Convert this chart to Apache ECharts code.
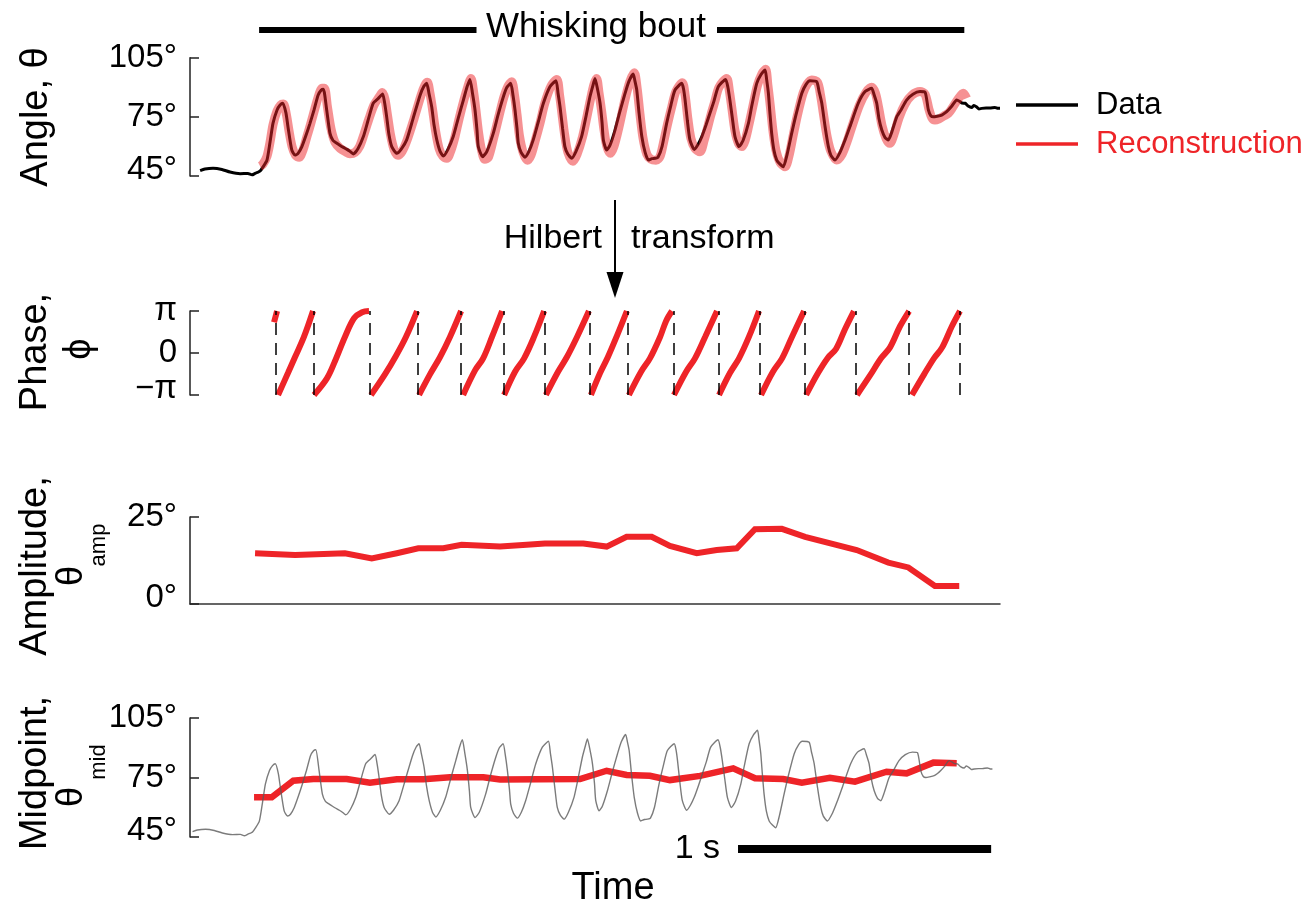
<!DOCTYPE html>
<html>
<head>
<meta charset="utf-8">
<script src="https://cdn.jsdelivr.net/npm/echarts@6/dist/echarts.min.js"></script>
<style>html,body{margin:0;padding:0;background:#fff}#main{width:1314px;height:907px}</style>
</head>
<body>
<div id="main"></div>
<script>
// ---------- DATA (time in seconds, angles in degrees, phase in radians) ----------
const angleTickLabels = ['45°', '75°', '105°'];
const ampTickLabels = ['0°', '25°'];
const phaseTickLabels = ['−π', '0', 'π'];

const angleData = [
[0.040,47.7],[0.059,48.5],[0.091,48.9],[0.126,48.3],[0.158,47.0],[0.198,46.2],[0.229,46.3],[0.245,45.6],[0.257,46.3],[0.269,47.0],
[0.277,47.5],[0.288,49.5],[0.304,53.0],[0.316,62.0],[0.328,71.8],[0.344,78.5],[0.356,81.0],[0.367,81.9],[0.379,77.0],[0.387,70.0],
[0.402,58.2],[0.415,55.6],[0.427,56.5],[0.442,59.9],[0.458,65.5],[0.474,71.7],[0.490,78.5],[0.506,86.0],[0.518,88.5],[0.527,89.0],
[0.540,78.5],[0.553,66.6],[0.565,63.0],[0.580,61.6],[0.593,60.5],[0.606,59.5],[0.620,58.5],[0.632,57.5],[0.645,56.2],[0.664,59.0],
[0.685,65.0],[0.703,73.0],[0.724,81.9],[0.744,84.4],[0.761,86.6],[0.769,82.0],[0.777,75.0],[0.786,66.0],[0.797,59.9],[0.817,56.5],
[0.834,58.5],[0.856,63.3],[0.881,74.0],[0.909,86.0],[0.924,90.5],[0.935,92.0],[0.944,87.0],[0.955,80.0],[0.964,71.0],[0.975,63.3],
[0.988,57.5],[1.001,55.1],[1.019,58.5],[1.040,65.0],[1.059,74.0],[1.080,83.5],[1.094,90.0],[1.106,94.0],[1.116,87.0],[1.126,78.5],
[1.134,68.0],[1.139,59.9],[1.156,54.8],[1.173,57.5],[1.198,66.6],[1.217,76.0],[1.238,85.2],[1.252,90.0],[1.267,92.0],[1.276,86.0],
[1.284,78.5],[1.292,69.0],[1.297,61.6],[1.308,57.0],[1.323,54.5],[1.339,57.5],[1.356,63.3],[1.375,72.0],[1.396,81.9],[1.422,90.3],
[1.446,93.3],[1.454,87.0],[1.462,80.0],[1.472,69.0],[1.481,59.9],[1.493,56.0],[1.508,54.0],[1.525,57.5],[1.547,65.0],[1.564,75.0],
[1.580,85.2],[1.592,91.0],[1.600,94.5],[1.610,89.0],[1.620,81.9],[1.628,72.0],[1.633,63.3],[1.646,58.2],[1.659,60.5],[1.679,68.3],
[1.699,78.0],[1.719,87.0],[1.734,93.0],[1.751,96.7],[1.758,93.0],[1.765,88.6],[1.774,77.0],[1.785,65.0],[1.798,57.0],[1.811,53.1],
[1.825,53.8],[1.837,54.0],[1.849,54.5],[1.865,60.0],[1.883,71.7],[1.900,81.0],[1.916,88.6],[1.943,92.0],[1.950,89.0],[1.956,83.5],
[1.965,73.0],[1.975,63.3],[1.992,58.5],[2.007,61.0],[2.022,65.0],[2.039,71.0],[2.054,76.8],[2.070,83.0],[2.087,90.3],[2.116,94.0],
[2.125,90.0],[2.133,83.5],[2.143,74.0],[2.153,65.0],[2.169,59.9],[2.185,63.0],[2.206,71.7],[2.220,81.0],[2.239,92.0],[2.256,96.5],
[2.272,98.8],[2.278,94.0],[2.285,87.0],[2.291,77.0],[2.298,66.6],[2.307,58.0],[2.318,53.1],[2.331,51.0],[2.344,49.7],[2.359,56.0],
[2.377,66.6],[2.394,76.0],[2.417,87.0],[2.434,91.5],[2.449,93.3],[2.476,92.8],[2.485,88.0],[2.496,81.9],[2.509,70.0],[2.522,59.9],
[2.532,55.5],[2.548,53.1],[2.568,57.0],[2.588,63.3],[2.607,70.0],[2.640,81.9],[2.667,87.8],[2.693,89.5],[2.702,86.5],[2.713,81.9],
[2.722,74.0],[2.733,68.3],[2.746,64.5],[2.759,63.3],[2.773,67.5],[2.792,75.0],[2.809,78.5],[2.831,83.5],[2.856,86.5],[2.884,87.8],
[2.904,87.5],[2.917,78.5],[2.927,75.5],[2.937,75.0],[2.951,75.3],[2.970,75.9],[2.983,77.0],[2.996,78.5],[3.010,80.5],[3.029,83.5],
[3.042,82.7],[3.050,82.0],[3.062,81.9],[3.074,80.5],[3.088,79.8],[3.097,80.8],[3.108,80.0],[3.117,79.0],[3.128,79.3],[3.145,79.5],
[3.160,79.5],[3.180,79.8],[3.192,79.3],[3.200,79.3]
];

const reconstructionData = [
[0.277,50.0],[0.288,51.0],[0.304,55.0],[0.316,62.0],[0.328,71.0],[0.344,78.0],[0.358,81.0],[0.369,81.5],[0.381,76.0],[0.391,68.0],
[0.403,60.0],[0.417,55.5],[0.431,54.5],[0.446,58.0],[0.462,65.0],[0.478,72.0],[0.494,79.5],[0.510,86.5],[0.521,89.5],[0.531,89.5],
[0.543,80.0],[0.557,69.0],[0.573,62.0],[0.593,59.0],[0.612,57.5],[0.632,56.3],[0.652,57.0],[0.670,60.0],[0.687,66.0],[0.707,74.0],
[0.727,81.0],[0.747,85.0],[0.760,87.3],[0.770,84.0],[0.780,76.0],[0.792,66.0],[0.806,58.5],[0.822,55.5],[0.838,57.5],[0.857,63.0],
[0.885,74.0],[0.913,86.0],[0.928,91.0],[0.938,92.5],[0.948,87.0],[0.958,79.0],[0.970,68.0],[0.984,59.0],[0.999,55.0],[1.015,54.0],
[1.031,58.0],[1.047,65.0],[1.063,74.0],[1.082,83.5],[1.098,90.5],[1.110,94.5],[1.120,88.0],[1.130,78.0],[1.140,67.0],[1.152,58.0],
[1.165,53.5],[1.179,54.5],[1.201,65.0],[1.221,75.5],[1.240,85.0],[1.256,90.5],[1.271,92.8],[1.282,86.0],[1.292,76.0],[1.302,65.0],
[1.316,57.0],[1.333,53.0],[1.347,55.5],[1.363,62.5],[1.383,72.0],[1.402,82.0],[1.426,90.5],[1.449,94.0],[1.460,86.0],[1.470,76.0],
[1.480,66.0],[1.493,57.0],[1.513,52.5],[1.529,56.0],[1.551,65.0],[1.568,75.0],[1.584,85.0],[1.596,91.5],[1.606,94.5],[1.616,87.0],
[1.626,78.0],[1.636,68.0],[1.647,60.0],[1.661,56.5],[1.675,60.0],[1.695,70.0],[1.719,84.0],[1.738,93.0],[1.755,97.4],[1.766,90.0],
[1.778,76.0],[1.790,64.0],[1.805,56.0],[1.821,53.5],[1.841,53.0],[1.857,55.0],[1.869,61.0],[1.886,71.0],[1.904,80.5],[1.920,88.0],
[1.945,92.3],[1.956,86.0],[1.967,74.0],[1.979,64.0],[1.995,59.0],[2.015,57.3],[2.031,63.0],[2.058,76.0],[2.074,83.0],[2.090,90.0],
[2.120,94.5],[2.131,88.0],[2.141,79.0],[2.153,68.0],[2.167,61.5],[2.180,59.9],[2.193,63.0],[2.208,71.0],[2.224,80.5],[2.242,91.0],
[2.260,97.0],[2.274,99.1],[2.283,91.0],[2.293,80.0],[2.303,68.0],[2.315,58.0],[2.331,52.0],[2.351,49.7],[2.366,55.0],[2.382,65.0],
[2.400,76.0],[2.422,87.0],[2.438,91.5],[2.456,93.7],[2.479,92.5],[2.491,86.0],[2.503,76.0],[2.517,65.0],[2.532,57.5],[2.555,53.1],
[2.576,56.0],[2.596,62.5],[2.615,70.0],[2.645,81.0],[2.671,87.5],[2.693,90.0],[2.708,87.0],[2.720,80.0],[2.734,70.5],[2.750,64.0],
[2.765,61.6],[2.781,66.0],[2.801,74.5],[2.825,81.5],[2.852,86.0],[2.884,87.8],[2.904,86.5],[2.919,79.0],[2.931,74.5],[2.943,73.4],
[2.959,74.0],[2.979,75.5],[2.996,76.8],[3.014,80.0],[3.034,84.0],[3.055,87.0],[3.068,84.4]
];

const phaseBoundaries = [0.344,0.486,0.711,0.901,1.075,1.237,1.402,1.580,1.730,1.908,2.086,2.252,2.430,2.627,2.844,3.042];

const phaseSegments = [
[[0.332,2.30],[0.344,3.14]],
[[0.348,-3.14],[0.387,-1.5],[0.415,-0.3],[0.450,1.2],[0.486,3.14]],
[[0.490,-3.14],[0.541,-1.9],[0.573,-0.6],[0.612,1.2],[0.648,2.6],[0.680,3.05],[0.707,3.14]],
[[0.715,-3.14],[0.770,-1.6],[0.814,-0.2],[0.853,1.2],[0.897,3.14]],
[[0.905,-3.14],[0.948,-1.6],[0.988,-0.3],[1.027,1.2],[1.071,3.14]],
[[1.079,-3.14],[1.126,-1.3],[1.158,-0.4],[1.193,1.2],[1.233,3.14]],
[[1.241,-3.14],[1.284,-1.4],[1.320,-0.4],[1.359,1.2],[1.399,3.14]],
[[1.406,-3.14],[1.454,-1.4],[1.489,-0.3],[1.529,1.2],[1.576,3.14]],
[[1.584,-3.14],[1.620,-1.5],[1.651,-0.3],[1.687,1.3],[1.726,3.14]],
[[1.734,-3.14],[1.782,-1.4],[1.817,-0.4],[1.857,1.2],[1.881,2.4],[1.904,3.14]],
[[1.912,-3.14],[1.960,-1.4],[1.995,-0.4],[2.035,1.2],[2.082,3.14]],
[[2.090,-3.14],[2.133,-1.5],[2.169,-0.4],[2.208,1.2],[2.248,3.14]],
[[2.256,-3.14],[2.303,-1.4],[2.339,-0.4],[2.378,1.2],[2.426,3.14]],
[[2.434,-3.14],[2.481,-1.5],[2.520,-0.35],[2.552,0.3],[2.588,1.8],[2.623,3.14]],
[[2.635,-3.14],[2.686,-1.7],[2.730,-0.4],[2.765,0.4],[2.805,2.0],[2.841,3.14]],
[[2.852,-3.14],[2.900,-1.6],[2.939,-0.4],[2.971,0.4],[3.010,2.0],[3.042,3.14]]
];

const amplitudeData = [
[0.257,14.6],[0.415,14.1],[0.612,14.6],[0.718,13.1],[0.817,14.6],[0.902,16.0],[1.001,16.0],[1.073,17.0],[1.225,16.5],[1.330,17.0],
[1.402,17.4],[1.554,17.4],[1.646,16.5],[1.725,19.3],[1.824,19.3],[1.896,16.7],[2.002,14.6],[2.081,15.5],[2.160,16.0],[2.232,21.5],
[2.338,21.6],[2.430,19.3],[2.634,15.5],[2.759,11.9],[2.838,10.5],[2.943,5.2],[3.039,5.2]
];

const midpointData = [
[0.283,65.0],[0.353,65.0],[0.438,73.4],[0.517,74.2],[0.649,74.2],[0.741,72.4],[0.847,74.1],[0.952,74.1],[1.057,75.1],[1.189,75.1],
[1.255,74.0],[1.571,74.2],[1.676,78.4],[1.755,76.3],[1.847,75.9],[1.926,73.7],[2.045,75.8],[2.176,79.6],[2.262,74.6],[2.374,74.2],
[2.447,72.4],[2.558,74.9],[2.657,72.9],[2.782,77.9],[2.861,77.1],[2.967,82.5],[3.059,82.2]
];

const whiskingBout = [0.273, 3.059];   // seconds
const scaleBar = [2.165, 3.165];       // 1 s

// ---------- CHART ----------
const FONT = '"Liberation Sans", Arial, Helvetica, sans-serif';
const RED = '#ee2428';
const AX = '#222';
const chart = echarts.init(document.getElementById('main'), null, {renderer: 'canvas'});

function yAxisBase(gi, min, max, interval, fmt, lowVal) {
  return {
    type: 'value', gridIndex: gi, min: min, max: max, interval: interval,
    splitLine: {show: false},
    axisLine: {show: true, lineStyle: {color: AX, width: 1.5}},
    axisTick: {show: true, inside: true, length: 9, lineStyle: {color: AX, width: 1.5}},
    axisLabel: {
      margin: 13, color: '#000', fontSize: 33, fontFamily: FONT,
      formatter: function (v) {
        const s = fmt(v);
        return Math.abs(v - lowVal) < 1e-6 ? '{lo|' + s + '}' : s;
      },
      rich: {lo: {fontSize: 33, fontFamily: FONT, color: '#000', padding: [0, 0, 12, 0]}}
    }
  };
}
function xAxisBase(gi, min, max, showLine) {
  return {
    type: 'value', gridIndex: gi, min: min, max: max,
    axisLine: {show: !!showLine, onZero: false, lineStyle: {color: '#333', width: 1.5}},
    axisTick: {show: false}, axisLabel: {show: false}, splitLine: {show: false}
  };
}

const angleFmt = v => angleTickLabels[Math.round((v - 45) / 30)];
const ampFmt = v => ampTickLabels[Math.round(v / 25)];
const phaseFmt = v => phaseTickLabels[Math.round(v / Math.PI) + 1];

const series = [];
series.push({type: 'line', xAxisIndex: 0, yAxisIndex: 0, data: angleData, showSymbol: false, smooth: 0.2,
  lineStyle: {color: '#000', width: 3}, z: 2, silent: true});
series.push({type: 'line', xAxisIndex: 0, yAxisIndex: 0, data: reconstructionData, showSymbol: false, smooth: 0.3,
  lineStyle: {color: 'rgba(238,36,40,0.5)', width: 9, join: 'round'}, z: 3, silent: true});

phaseSegments.forEach(function (seg) {
  series.push({type: 'line', xAxisIndex: 1, yAxisIndex: 1, data: seg, showSymbol: false, smooth: 0.35,
    lineStyle: {color: RED, width: 6}, z: 3, silent: true});
});
series.push({type: 'line', xAxisIndex: 1, yAxisIndex: 1, data: [], silent: true,
  markLine: {silent: true, symbol: ['none', 'none'], label: {show: false}, animation: false,
    lineStyle: {color: '#000', width: 1.5, type: [12, 8]},
    data: phaseBoundaries.map(t => ({xAxis: t}))}});

series.push({type: 'line', xAxisIndex: 2, yAxisIndex: 2, data: amplitudeData, showSymbol: false,
  lineStyle: {color: RED, width: 6, join: 'miter'}, z: 3, silent: true});

series.push({type: 'line', xAxisIndex: 3, yAxisIndex: 3, data: midpointData, showSymbol: false,
  lineStyle: {color: RED, width: 6.5, join: 'miter'}, z: 2, silent: true});
series.push({type: 'line', xAxisIndex: 3, yAxisIndex: 3, data: angleData, showSymbol: false, smooth: 0.2,
  lineStyle: {color: 'rgba(90,90,90,0.8)', width: 1.4}, z: 3, silent: true});

const option = {
  animation: false,
  backgroundColor: '#fff',
  grid: [
    {left: 190, width: 810, top: 57.7, height: 118.3},
    {left: 190, width: 810, top: 311, height: 84},
    {left: 190, width: 810, top: 517, height: 87},
    {left: 190, width: 810, top: 718, height: 119}
  ],
  xAxis: [xAxisBase(0, 0, 3.2), xAxisBase(1, 0, 3.2), xAxisBase(2, 0, 3.2, true), xAxisBase(3, 0.03, 3.23)],
  yAxis: [
    yAxisBase(0, 45, 105, 30, angleFmt, 45),
    yAxisBase(1, -Math.PI, Math.PI, Math.PI, phaseFmt, -Math.PI),
    yAxisBase(2, 0, 25, 25, ampFmt, 0),
    yAxisBase(3, 45, 105, 30, angleFmt, 45)
  ],
  series: series
};
chart.setOption(option);

// ---------- annotations positioned from the axes ----------
const px = t => chart.convertToPixel({xAxisIndex: 0}, t);
function txt(x, y, text, size, opts) {
  opts = opts || {};
  return {type: 'text', x: x, y: y, rotation: opts.rot || 0, silent: true,
    style: {text: text, fontSize: size, fontFamily: FONT, fill: opts.color || '#000',
      align: opts.align || 'center', verticalAlign: 'middle'}};
}
const R = Math.PI / 2;
const bx0 = px(whiskingBout[0]), bx1 = px(whiskingBout[1]);
const sx0 = px(scaleBar[0]), sx1 = px(scaleBar[1]);
const graphic = [
  {type: 'rect', silent: true, shape: {x: bx0, y: 27, width: 476.5 - bx0, height: 6}, style: {fill: '#000'}},
  {type: 'rect', silent: true, shape: {x: 717, y: 27, width: bx1 - 717, height: 6}, style: {fill: '#000'}},
  txt(596, 27, 'Whisking bout', 35),
  // Hilbert arrow
  {type: 'line', silent: true, shape: {x1: 615, y1: 200, x2: 615, y2: 276}, style: {stroke: '#000', lineWidth: 2}},
  {type: 'polygon', silent: true, shape: {points: [[606.5, 272], [623.5, 272], [615, 298]]}, style: {fill: '#000'}},
  txt(602, 239, 'Hilbert', 34, {align: 'right'}),
  txt(631, 239, 'transform', 34, {align: 'left'}),
  // legend
  {type: 'line', silent: true, shape: {x1: 1016, y1: 105, x2: 1078, y2: 105}, style: {stroke: '#000', lineWidth: 3.5}},
  {type: 'line', silent: true, shape: {x1: 1016, y1: 144, x2: 1078, y2: 144}, style: {stroke: RED, lineWidth: 3.5}},
  txt(1096, 105, 'Data', 31, {align: 'left'}),
  txt(1096, 144, 'Reconstruction', 31, {align: 'left', color: RED}),
  // axis titles
  txt(37, 117, 'Angle, θ', 38, {rot: R}),
  txt(36, 352, 'Phase,', 38, {rot: R}),
  txt(80, 349, 'ϕ', 38, {rot: R}),
  txt(36, 566, 'Amplitude,', 38, {rot: R}),
  txt(72, 576, 'θ', 36, {rot: R}),
  txt(99, 545, 'amp', 22, {rot: R}),
  txt(36, 773, 'Midpoint,', 38, {rot: R}),
  txt(72, 797, 'θ', 36, {rot: R}),
  txt(99, 762, 'mid', 22, {rot: R}),
  // scale bar and time label
  {type: 'rect', silent: true, shape: {x: sx0, y: 845, width: sx1 - sx0, height: 8}, style: {fill: '#000'}},
  txt(sx0 - 18, 849, '1 s', 34, {align: 'right'}),
  txt(613, 889, 'Time', 38)
];
chart.setOption({graphic: graphic});
</script>
</body>
</html>
